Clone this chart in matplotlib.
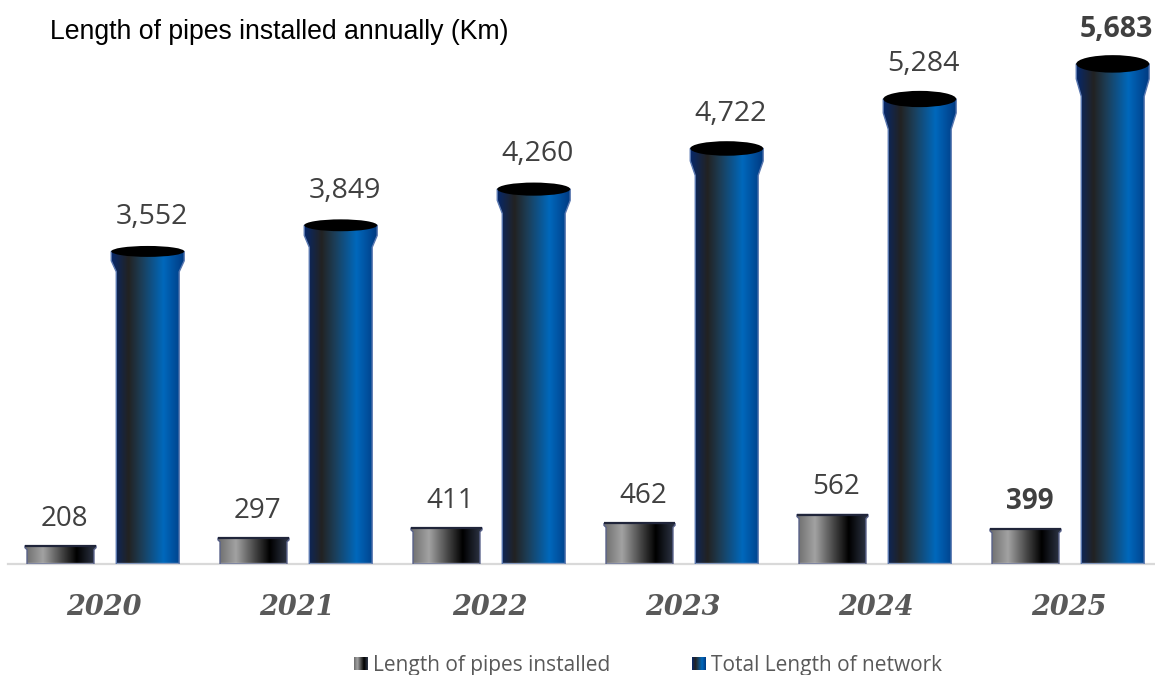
import numpy as np
import matplotlib
matplotlib.use('Agg')
import matplotlib.pyplot as plt
from matplotlib.colors import LinearSegmentedColormap
from matplotlib.patches import Ellipse, Polygon

years = ['2020', '2021', '2022', '2023', '2024', '2025']
installed = [208, 297, 411, 462, 562, 399]
network = [3552, 3849, 4260, 4722, 5284, 5683]

title = 'Length of pipes installed annually (Km)'
name_installed = 'Length of pipes installed'
name_network = 'Total Length of network'

gray_cmap = LinearSegmentedColormap.from_list('gray_pipe', [
    (0, '#6c6c6c'), (0.25, '#a2a2a2'), (0.5, '#4a4a4a'), (0.72, '#000000'), (1, '#323a4c')])
blue_cmap = LinearSegmentedColormap.from_list('blue_pipe', [
    (0, '#06286c'), (0.24, '#222222'), (0.42, '#1c3e58'), (0.72, '#0068bc'), (1, '#003a82')])
grad = np.linspace(0, 1, 256).reshape(1, -1)

fig = plt.figure(figsize=(11.55, 6.75), dpi=100)
ax = fig.add_axes([8 / 1155, 111 / 675, 1147 / 1155, 564 / 675])
ax.set_xlim(-0.496, 5.447)
ax.set_ylim(0, 6409)
px = 6409 / 564  # data units per pixel


def pipe(x, value, body, lip, drop, flare, cmap, edge):
    # outline of the pipe with its flared mouth
    pts = [(x - body / 2, 0), (x - body / 2, value - flare), (x - lip / 2, value - drop),
           (x - lip / 2, value), (x + lip / 2, value), (x + lip / 2, value - drop),
           (x + body / 2, value - flare), (x + body / 2, 0)]
    shape = Polygon(pts, closed=True, fc='none', ec=edge, lw=1, zorder=3)
    ax.add_patch(shape)
    im = ax.imshow(grad, cmap=cmap, aspect='auto', zorder=2,
                   extent=[x - lip / 2, x + lip / 2, 0, value])
    im.set_clip_path(shape)


for i in range(len(years)):
    x_gray = i - 0.224
    x_blue = i + 0.228

    pipe(x_gray, installed[i], 0.347, 0.368, 2 * px, 4 * px, gray_cmap, '#59628a')
    ax.plot([x_gray - 0.184, x_gray + 0.184], [installed[i], installed[i]],
            color='#20253a', lw=1.6, zorder=4, solid_capstyle='butt')
    ax.annotate(f'{installed[i]:,}', (x_gray + 0.02, installed[i]), xytext=(0, 19.5),
                textcoords='offset points', ha='center', va='center',
                family='Open Sans', fontsize=20, color='#404040',
                fontweight='bold' if years[i] == '2025' else 'normal')

    # the mouth of the long pipes grows with the pipe
    pipe(x_blue, network[i], 0.326, 0.378, 0.03 * network[i], 0.065 * network[i], blue_cmap, '#5a78b0')
    ax.add_patch(Ellipse((x_blue, network[i]), 0.378, 0.035 * network[i], fc='black', ec='none', zorder=5))
    ax.annotate(f'{network[i]:,}', (x_blue + 0.02, network[i]), xytext=(0, 25),
                textcoords='offset points', ha='center', va='center',
                family='Open Sans', fontsize=20.5, color='#404040',
                fontweight='bold' if years[i] == '2025' else 'normal')

ax.set_xlim(-0.496, 5.447)
ax.set_ylim(0, 6409)
ax.set_xticks(range(len(years)), labels=years)
ax.tick_params(axis='x', length=0, pad=21.5)
for t in ax.get_xticklabels():
    t.set(family='DejaVu Serif', style='italic', fontweight='bold', fontsize=19.5, color='#595959')
ax.set_yticks([])
for s in ['top', 'left', 'right']:
    ax.spines[s].set_visible(False)
ax.spines['bottom'].set_color('#d9d9d9')
ax.spines['bottom'].set_linewidth(1.6)
ax.patch.set_visible(False)

fig.text(50 / 1155, 1 - 32 / 675, title, family='Liberation Sans', fontsize=19.2,
         color='black', va='center')

# legend with gradient swatches
for left, name, cmap in [(354, name_installed, gray_cmap), (692, name_network, blue_cmap)]:
    sw = fig.add_axes([left / 1155, 1 - 670 / 675, 14 / 1155, 13 / 675])
    sw.imshow(grad, cmap=cmap, aspect='auto')
    sw.axis('off')
    fig.text((left + 19) / 1155, 1 - 665 / 675, name, family='Open Sans', fontsize=15.05,
             color='#595959', va='center')

fig.savefig('out.png', dpi=100)
